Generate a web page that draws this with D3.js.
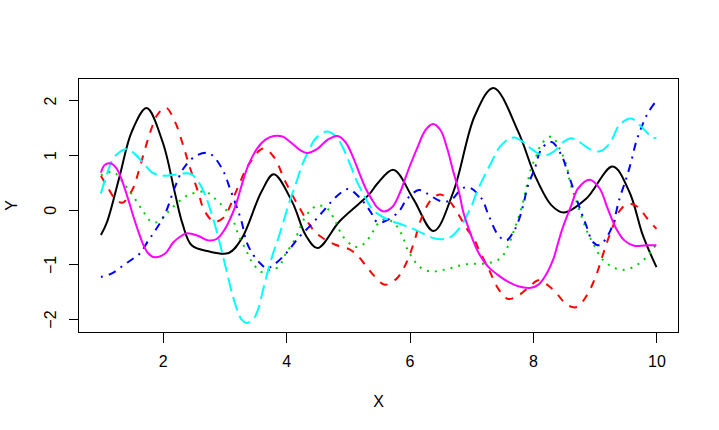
<!DOCTYPE html>
<html>
<head>
<meta charset="utf-8">
<script src="https://cdn.jsdelivr.net/npm/d3@7"></script>
<style>
  html, body { margin: 0; padding: 0; background: #ffffff; }
  svg { display: block; }
  text { font-family: "Liberation Sans", Arial, sans-serif; font-size: 16px; fill: #000; }
</style>
</head>
<body>
<svg id="chart" width="719" height="430"></svg>
<script>
// ---- data ----
const xTicks = [2, 4, 6, 8, 10];
const yTicks = [-2, -1, 0, 1, 2];
const xLabel = "X";
const yLabel = "Y";

const blackX = [1, 1.1, 1.3, 1.5, 1.74, 2.0, 2.2, 2.32, 2.47, 2.74, 3.07, 3.28, 3.6, 3.8, 4.1, 4.32, 4.51, 4.86, 5.18, 5.36, 5.48, 5.74, 6.06, 6.39, 6.71, 7.06, 7.36, 7.76, 8.03, 8.3, 8.5, 8.86, 9.29, 9.56, 9.78, 10];
const blackY = [-0.46, -0.22, 0.6, 1.43, 1.86, 1.24, 0.3, -0.25, -0.65, -0.76, -0.79, -0.53, 0.33, 0.65, 0.14, -0.47, -0.70, -0.22, 0.11, 0.30, 0.48, 0.73, 0.2, -0.39, 0.33, 1.73, 2.23, 1.43, 0.63, 0.08, -0.05, 0.2, 0.79, 0.33, -0.47, -1.05];

const redX = [1, 1.09, 1.23, 1.35, 1.52, 1.6, 1.74, 1.82, 1.91, 2.05, 2.2, 2.34, 2.42, 2.59, 2.66, 2.8, 2.86, 2.99, 3.2, 3.39, 3.63, 3.8, 3.99, 4.21, 4.45, 4.61, 4.8, 5.02, 5.15, 5.29, 5.42, 5.6, 5.79, 5.9, 6.0, 6.09, 6.17, 6.34, 6.5, 6.66, 6.8, 6.93, 7.04, 7.14, 7.28, 7.44, 7.59, 7.76, 7.93, 8.09, 8.25, 8.39, 8.55, 8.71, 8.87, 8.98, 9.06, 9.13, 9.2, 9.28, 9.39, 9.54, 9.7, 9.85, 10];
const redY = [0.62, 0.45, 0.2, 0.13, 0.39, 0.66, 1.21, 1.49, 1.73, 1.87, 1.61, 1.15, 0.85, 0.27, 0.02, -0.2, -0.22, -0.14, 0.36, 0.82, 1.12, 0.97, 0.51, 0.05, -0.38, -0.53, -0.64, -0.72, -0.83, -1.02, -1.2, -1.37, -1.26, -1.08, -0.83, -0.53, -0.22, 0.17, 0.28, 0.14, -0.1, -0.35, -0.53, -0.77, -1.08, -1.45, -1.63, -1.57, -1.42, -1.29, -1.39, -1.54, -1.74, -1.78, -1.57, -1.32, -1.08, -0.83, -0.59, -0.35, -0.04, 0.11, 0.05, -0.16, -0.35];

const greenX = [1, 1.2, 1.39, 1.55, 1.69, 1.82, 1.93, 2.09, 2.25, 2.42, 2.69, 2.85, 3.01, 3.15, 3.23, 3.34, 3.45, 3.61, 3.77, 3.88, 3.98, 4.15, 4.28, 4.42, 4.53, 4.67, 4.8, 4.91, 5.07, 5.17, 5.29, 5.4, 5.5, 5.62, 5.77, 5.88, 5.96, 6.04, 6.17, 6.34, 6.5, 6.66, 6.82, 6.98, 7.17, 7.33, 7.49, 7.6, 7.7, 7.81, 7.89, 7.97, 8.06, 8.14, 8.3, 8.43, 8.54, 8.6, 8.69, 8.78, 8.88, 8.99, 9.12, 9.29, 9.45, 9.62, 9.78, 9.91, 10];
const greenY = [0.63, 0.69, 0.45, 0.2, -0.04, -0.22, -0.22, -0.04, 0.14, 0.27, 0.33, 0.2, 0.02, -0.22, -0.47, -0.71, -0.96, -1.14, -1.08, -1.05, -0.83, -0.53, -0.19, 0.02, 0.08, 0.02, -0.22, -0.47, -0.65, -0.68, -0.59, -0.41, -0.24, -0.17, -0.27, -0.47, -0.71, -0.87, -1.05, -1.13, -1.11, -1.07, -1.02, -0.99, -0.99, -0.96, -0.87, -0.65, -0.35, 0.02, 0.39, 0.76, 1.0, 1.21, 1.34, 1.12, 0.82, 0.5, 0.2, -0.1, -0.41, -0.65, -0.9, -1.05, -1.1, -1.05, -0.93, -0.77, -0.62];

const blueX = [1, 1.17, 1.36, 1.5, 1.63, 1.77, 1.88, 2.04, 2.2, 2.34, 2.53, 2.73, 2.83, 2.99, 3.09, 3.2, 3.28, 3.36, 3.47, 3.58, 3.69, 3.82, 4.02, 4.21, 4.4, 4.59, 4.75, 4.91, 5.01, 5.21, 5.37, 5.47, 5.58, 5.82, 5.96, 6.15, 6.28, 6.5, 6.66, 6.8, 6.9, 7.0, 7.17, 7.28, 7.44, 7.57, 7.68, 7.76, 7.84, 7.92, 8.03, 8.14, 8.3, 8.46, 8.54, 8.65, 8.76, 8.86, 8.97, 9.08, 9.18, 9.29, 9.4, 9.51, 9.59, 9.67, 9.75, 9.86, 10];
const blueY = [-1.23, -1.17, -1.02, -0.91, -0.8, -0.56, -0.38, -0.07, 0.42, 0.76, 0.98, 1.04, 0.97, 0.69, 0.39, 0.05, -0.22, -0.59, -0.83, -0.98, -1.07, -0.99, -0.77, -0.5, -0.28, -0.04, 0.17, 0.33, 0.38, 0.2, -0.04, -0.22, -0.22, -0.04, 0.2, 0.36, 0.3, 0.16, 0.17, 0.33, 0.41, 0.39, 0.2, -0.1, -0.47, -0.56, -0.41, -0.22, 0.08, 0.45, 0.76, 1.12, 1.24, 1.0, 0.76, 0.39, 0.02, -0.28, -0.59, -0.65, -0.53, -0.28, 0.2, 0.57, 0.88, 1.24, 1.49, 1.77, 2.0];

const cyanX = [1, 1.09, 1.2, 1.31, 1.41, 1.52, 1.69, 1.82, 1.96, 2.12, 2.25, 2.45, 2.58, 2.69, 2.8, 2.88, 2.96, 3.04, 3.12, 3.2, 3.28, 3.36, 3.47, 3.55, 3.63, 3.71, 3.8, 3.88, 3.96, 4.07, 4.15, 4.26, 4.37, 4.48, 4.67, 4.83, 4.94, 5.04, 5.15, 5.26, 5.37, 5.48, 5.69, 5.9, 6.12, 6.34, 6.5, 6.66, 6.82, 6.93, 7.0, 7.08, 7.19, 7.33, 7.46, 7.6, 7.71, 7.84, 7.98, 8.17, 8.33, 8.49, 8.62, 8.75, 8.92, 9.08, 9.24, 9.4, 9.59, 9.78, 9.94, 10];
const cyanY = [0.3, 0.63, 0.94, 1.06, 1.11, 1.05, 0.85, 0.69, 0.63, 0.63, 0.65, 0.66, 0.51, 0.27, -0.1, -0.41, -0.77, -1.14, -1.51, -1.81, -2.01, -2.07, -2.0, -1.81, -1.45, -1.1, -0.76, -0.5, -0.2, 0.2, 0.45, 0.82, 1.09, 1.31, 1.43, 1.31, 1.09, 0.82, 0.51, 0.27, 0.05, -0.07, -0.2, -0.28, -0.38, -0.5, -0.54, -0.5, -0.32, -0.1, 0.05, 0.3, 0.57, 0.88, 1.15, 1.29, 1.32, 1.24, 1.11, 0.99, 1.06, 1.24, 1.31, 1.24, 1.11, 1.07, 1.21, 1.55, 1.67, 1.49, 1.32, 1.32];

const magentaX = [1, 1.06, 1.15, 1.25, 1.33, 1.44, 1.52, 1.61, 1.69, 1.77, 1.87, 2.04, 2.17, 2.3, 2.39, 2.58, 2.74, 2.88, 3.01, 3.12, 3.2, 3.28, 3.39, 3.53, 3.66, 3.8, 3.94, 4.1, 4.23, 4.34, 4.5, 4.67, 4.83, 4.96, 5.07, 5.18, 5.29, 5.4, 5.47, 5.58, 5.72, 5.85, 5.99, 6.12, 6.26, 6.38, 6.5, 6.61, 6.71, 6.8, 6.87, 6.97, 7.06, 7.14, 7.28, 7.44, 7.6, 7.76, 7.95, 8.09, 8.22, 8.33, 8.41, 8.49, 8.62, 8.73, 8.92, 9.08, 9.21, 9.35, 9.48, 9.64, 9.83, 10];
const magentaY = [0.68, 0.82, 0.85, 0.76, 0.57, 0.2, -0.1, -0.41, -0.65, -0.8, -0.87, -0.8, -0.6, -0.48, -0.43, -0.48, -0.56, -0.53, -0.35, -0.1, 0.14, 0.45, 0.82, 1.12, 1.28, 1.35, 1.34, 1.21, 1.09, 1.04, 1.11, 1.28, 1.35, 1.24, 1.0, 0.69, 0.39, 0.17, 0.05, -0.03, 0.05, 0.33, 0.76, 1.12, 1.46, 1.57, 1.46, 1.12, 0.69, 0.33, -0.04, -0.38, -0.65, -0.83, -1.05, -1.2, -1.32, -1.4, -1.43, -1.37, -1.17, -0.9, -0.59, -0.3, 0.08, 0.39, 0.55, 0.39, 0.02, -0.35, -0.56, -0.66, -0.65, -0.65];

const seriesNames = ["black", "red", "green", "blue", "cyan", "magenta"];
const seriesX = [blackX, redX, greenX, blueX, cyanX, magentaX];
const seriesY = [blackY, redY, greenY, blueY, cyanY, magentaY];
const seriesColors = ["#000000", "#FF0000", "#00CD00", "#0000FF", "#00FFFF", "#FF00FF"];
const seriesDash = [null, "8,8", "2,6", "2,6,8,6", "14,6", null];

// ---- layout ----
const W = 719, H = 430;
const plot = { left: 78.7, right: 678.7, top: 78.5, bottom: 332.3 };

const svg = d3.select("#chart");

// R-style 4% padding
const allX = seriesX.flat(), allY = seriesY.flat();
const [x0, x1] = d3.extent(allX);
const [y0, y1] = d3.extent(allY);
const px = (x1 - x0) * 0.04, py = (y1 - y0) * 0.04;

const x = d3.scaleLinear().domain([x0 - px, x1 + px]).range([plot.left, plot.right]);
const y = d3.scaleLinear().domain([y0 - py, y1 + py]).range([plot.bottom, plot.top]);

// lines
const line = d3.line()
  .x(d => x(d[0]))
  .y(d => y(d[1]))
  .curve(d3.curveCatmullRom.alpha(0.5));

const gLines = svg.append("g");
seriesX.forEach((xs, i) => {
  const pts = xs.map((v, j) => [v, seriesY[i][j]]);
  const p = gLines.append("path")
    .datum(pts)
    .attr("d", line)
    .attr("fill", "none")
    .attr("stroke", seriesColors[i])
    .attr("stroke-width", 2)
    .attr("stroke-linecap", "butt")
    .attr("stroke-linejoin", "round");
  if (seriesDash[i]) p.attr("stroke-dasharray", seriesDash[i]);
});

// box
svg.append("rect")
  .attr("x", 78.5).attr("y", 78.5)
  .attr("width", 600).attr("height", 254)
  .attr("fill", "none").attr("stroke", "#000").attr("stroke-width", 1)
  .attr("shape-rendering", "crispEdges");

// x axis
const xAxis = d3.axisBottom(x).tickValues(xTicks).tickSize(10).tickPadding(14).tickFormat(d3.format("d"));
const gx = svg.append("g").attr("transform", "translate(0,332.5)").call(xAxis);
gx.select(".domain").remove();
gx.selectAll(".tick line").attr("stroke", "#000").attr("shape-rendering", "crispEdges");
gx.selectAll(".tick text")
  .attr("font-family", "Liberation Sans, Arial, sans-serif")
  .attr("font-size", 16)
  .attr("fill", "#000")
  .attr("dy", null)
  .attr("y", 34.5);

// y axis
const yAxis = d3.axisLeft(y).tickValues(yTicks).tickSize(10).tickFormat(d3.format("d"));
const gy = svg.append("g").attr("transform", "translate(78.5,0)").call(yAxis);
gy.select(".domain").remove();
gy.selectAll(".tick line").attr("stroke", "#000").attr("shape-rendering", "crispEdges");
gy.selectAll(".tick text")
  .attr("font-family", "Liberation Sans, Arial, sans-serif")
  .attr("font-size", 16)
  .attr("fill", "#000")
  .attr("x", null).attr("dy", null)
  .attr("text-anchor", "middle")
  .attr("transform", "translate(-22.5,0) rotate(-90)");

// axis titles
svg.append("text")
  .attr("x", (plot.left + plot.right) / 2)
  .attr("y", 406.5)
  .attr("text-anchor", "middle")
  .text(xLabel);

svg.append("text")
  .attr("transform", `translate(17,${(plot.top + plot.bottom) / 2}) rotate(-90)`)
  .attr("text-anchor", "middle")
  .text(yLabel);
</script>
</body>
</html>
